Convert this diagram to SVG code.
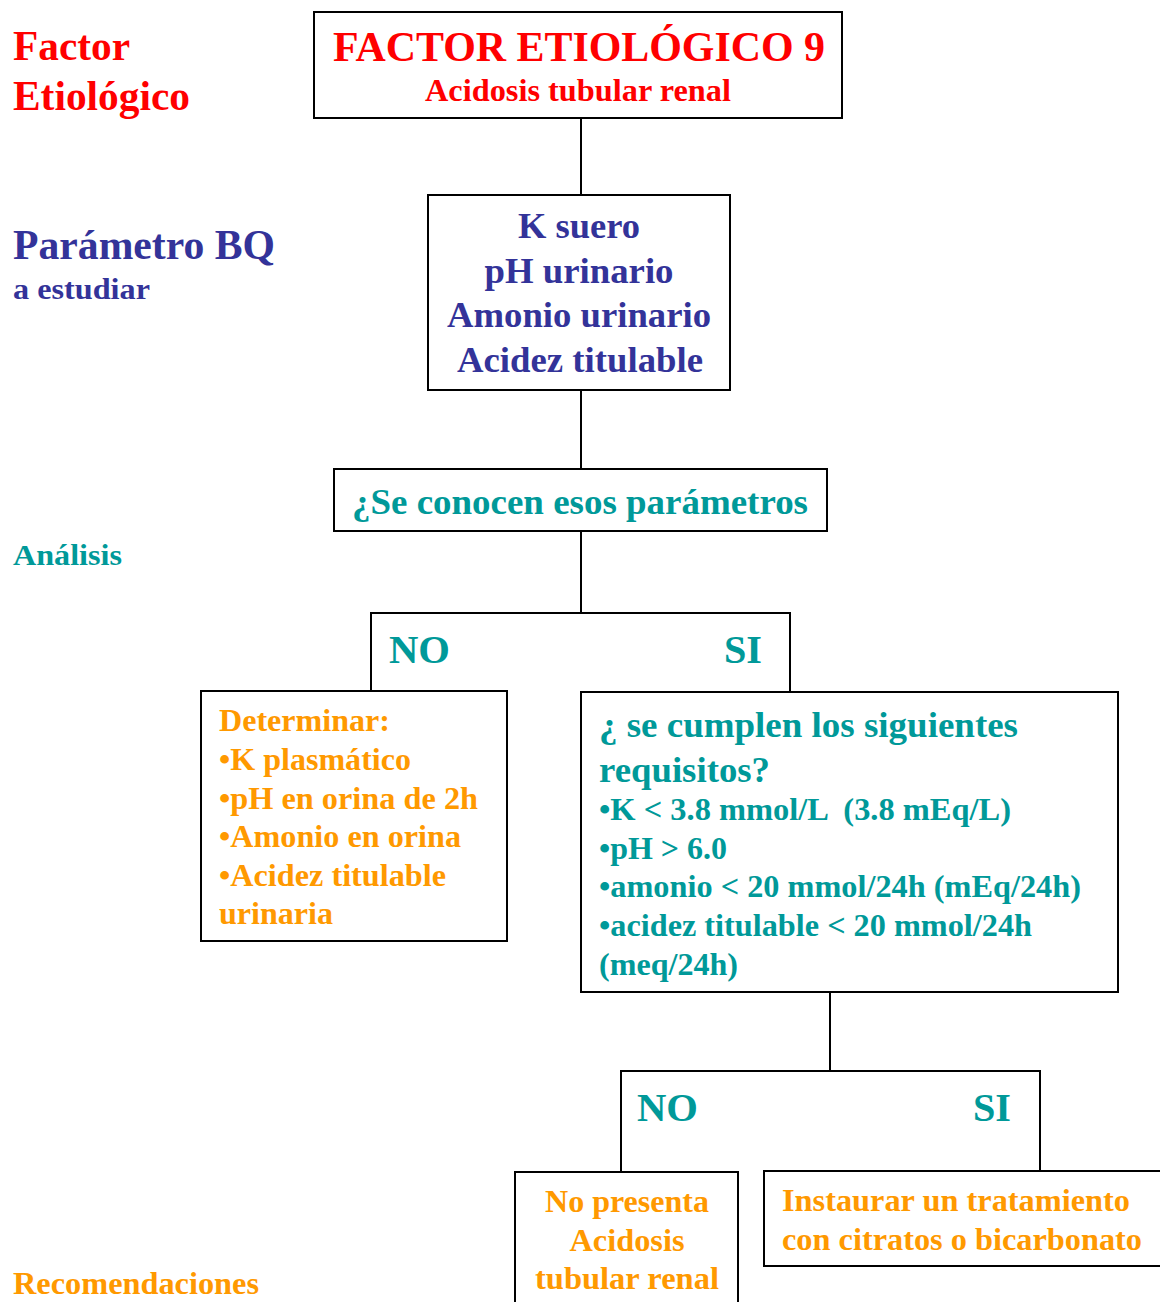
<svg xmlns="http://www.w3.org/2000/svg" width="1160" height="1302" viewBox="0 0 1160 1302">
<style>
text{font-family:"Liberation Serif","Times New Roman",serif;font-weight:bold}
.box{fill:#fff;stroke:#000;stroke-width:2}
.br{fill:none;stroke:#000;stroke-width:2}
.ln{stroke:#000;stroke-width:2;fill:none}
.red{fill:#ff0000}.navy{fill:#333399}.teal{fill:#009999}.org{fill:#ff9900}
.c{text-anchor:middle}
</style>
<rect width="1160" height="1302" fill="#fff"/>
<g id="labels">
<text class="red" x="13" y="60" font-size="42" textLength="117" lengthAdjust="spacingAndGlyphs">Factor</text>
<text class="red" x="13" y="110" font-size="42" textLength="177" lengthAdjust="spacingAndGlyphs">Etiológico</text>
<text class="navy" x="13" y="259" font-size="42" textLength="262" lengthAdjust="spacingAndGlyphs">Parámetro BQ</text>
<text class="navy" x="13" y="299" font-size="30" textLength="137" lengthAdjust="spacingAndGlyphs">a estudiar</text>
<text class="teal" x="13" y="565" font-size="30" textLength="109" lengthAdjust="spacingAndGlyphs">Análisis</text>
<text class="org" x="13" y="1294" font-size="31" textLength="246" lengthAdjust="spacingAndGlyphs">Recomendaciones</text>
</g>
<g id="connectors">
<line class="ln" x1="581" y1="118" x2="581" y2="195"/>
<line class="ln" x1="581" y1="390" x2="581" y2="469"/>
<line class="ln" x1="581" y1="531" x2="581" y2="613"/>
<path class="br" d="M371,691 V613 H790 V692"/>
<line class="ln" x1="830" y1="992" x2="830" y2="1071"/>
<path class="br" d="M621,1172 V1071 H1040 V1171"/>
</g>
<g id="factor">
<rect class="box" x="314" y="12" width="528" height="106"/>
<text class="red c" x="579" y="61" font-size="42" textLength="492" lengthAdjust="spacingAndGlyphs">FACTOR ETIOLÓGICO 9</text>
<text class="red c" x="578" y="101" font-size="31" textLength="306" lengthAdjust="spacingAndGlyphs">Acidosis tubular renal</text>
</g>
<g id="parametros">
<rect class="box" x="428" y="195" width="302" height="195"/>
<text class="navy c" x="579" y="238" font-size="36" textLength="122" lengthAdjust="spacingAndGlyphs">K suero</text>
<text class="navy c" x="579" y="283" font-size="36" textLength="189" lengthAdjust="spacingAndGlyphs">pH urinario</text>
<text class="navy c" x="579" y="327" font-size="36" textLength="264" lengthAdjust="spacingAndGlyphs">Amonio urinario</text>
<text class="navy c" x="580" y="372" font-size="36" textLength="246" lengthAdjust="spacingAndGlyphs">Acidez titulable</text>
</g>
<g id="pregunta">
<rect class="box" x="334" y="469" width="493" height="62"/>
<text class="teal c" x="580" y="514" font-size="36" textLength="456" lengthAdjust="spacingAndGlyphs">¿Se conocen esos parámetros</text>
</g>
<g id="rama1">
<text class="teal" x="389" y="663" font-size="40" textLength="61" lengthAdjust="spacingAndGlyphs">NO</text>
<text class="teal" x="724" y="663" font-size="40" textLength="38" lengthAdjust="spacingAndGlyphs">SI</text>
</g>
<g id="determinar">
<rect class="box" x="201" y="691" width="306" height="250"/>
<text class="org" x="219" y="731" font-size="31" textLength="171" lengthAdjust="spacingAndGlyphs">Determinar:</text>
<text class="org" x="219" y="770" font-size="31" textLength="192" lengthAdjust="spacingAndGlyphs">•K plasmático</text>
<text class="org" x="219" y="809" font-size="31" textLength="259" lengthAdjust="spacingAndGlyphs">•pH en orina de 2h</text>
<text class="org" x="219" y="847" font-size="31" textLength="242" lengthAdjust="spacingAndGlyphs">•Amonio en orina</text>
<text class="org" x="219" y="886" font-size="31" textLength="227" lengthAdjust="spacingAndGlyphs">•Acidez titulable</text>
<text class="org" x="219" y="924" font-size="31" textLength="114" lengthAdjust="spacingAndGlyphs">urinaria</text>
</g>
<g id="requisitos">
<rect class="box" x="581" y="692" width="537" height="300"/>
<text class="teal" x="599" y="737" font-size="36" textLength="419" lengthAdjust="spacingAndGlyphs">¿ se cumplen los siguientes</text>
<text class="teal" x="599" y="782" font-size="36" textLength="171" lengthAdjust="spacingAndGlyphs">requisitos?</text>
<text class="teal" x="599" y="820" font-size="31" xml:space="preserve" textLength="412" lengthAdjust="spacingAndGlyphs">•K &lt; 3.8 mmol/L  (3.8 mEq/L)</text>
<text class="teal" x="599" y="859" font-size="31" textLength="128" lengthAdjust="spacingAndGlyphs">•pH &gt; 6.0</text>
<text class="teal" x="599" y="897" font-size="31" textLength="482" lengthAdjust="spacingAndGlyphs">•amonio &lt; 20 mmol/24h (mEq/24h)</text>
<text class="teal" x="599" y="936" font-size="31" textLength="433" lengthAdjust="spacingAndGlyphs">•acidez titulable &lt; 20 mmol/24h</text>
<text class="teal" x="599" y="975" font-size="31" textLength="139" lengthAdjust="spacingAndGlyphs">(meq/24h)</text>
</g>
<g id="rama2">
<text class="teal" x="637" y="1121" font-size="40" textLength="61" lengthAdjust="spacingAndGlyphs">NO</text>
<text class="teal" x="973" y="1121" font-size="40" textLength="38" lengthAdjust="spacingAndGlyphs">SI</text>
</g>
<g id="no-presenta">
<rect class="box" x="515" y="1172" width="223" height="140"/>
<text class="org c" x="627" y="1212" font-size="31" textLength="164" lengthAdjust="spacingAndGlyphs">No presenta</text>
<text class="org c" x="627" y="1251" font-size="31" textLength="115" lengthAdjust="spacingAndGlyphs">Acidosis</text>
<text class="org c" x="627" y="1289" font-size="31" textLength="184" lengthAdjust="spacingAndGlyphs">tubular renal</text>
</g>
<g id="tratamiento">
<rect class="box" x="764" y="1171" width="420" height="95"/>
<text class="org" x="782" y="1211" font-size="31" textLength="348" lengthAdjust="spacingAndGlyphs">Instaurar un tratamiento</text>
<text class="org" x="782" y="1250" font-size="31" textLength="360" lengthAdjust="spacingAndGlyphs">con citratos o bicarbonato</text>
</g>
</svg>
